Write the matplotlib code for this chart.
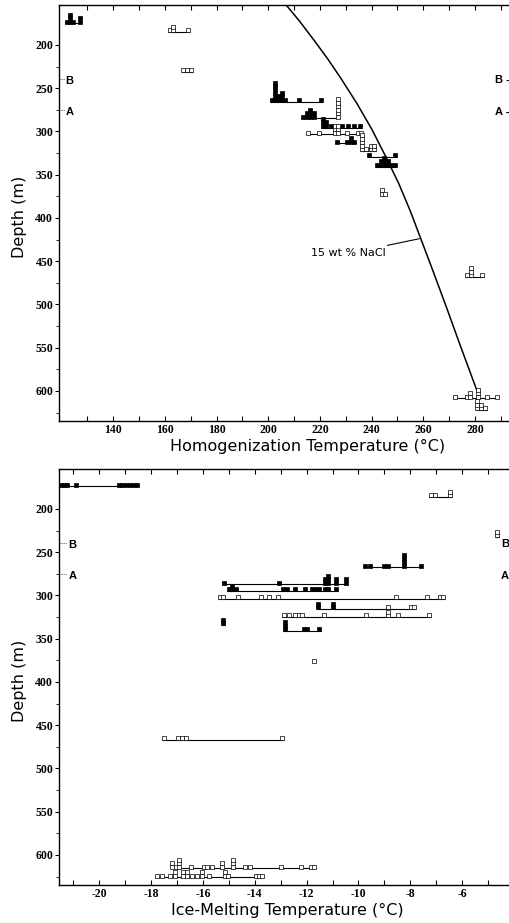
import matplotlib
matplotlib.use('Agg')
import matplotlib.pyplot as plt
from collections import Counter

plt.rcParams['axes.unicode_minus'] = False

# ---------------- data: homogenization temperature (top panel) ----------------
# one entry per inclusion (deg C); repeated values stack up as a histogram column
th_depths = [175, 185, 231, 265.5, 285, 295.6, 303.3, 313.7, 322.5, 329, 340.6, 374, 468, 608.5, 622]
th_filled = [
    [122.2, 123.4, 123.4, 123.4, 124.6, 127.0, 127.0],
    [],
    [],
    [201.3, 202.7, 202.7, 202.7, 202.7, 202.7, 202.7, 204.0, 204.0, 205.3, 205.3, 205.3, 206.6, 211.9, 220.3],
    [213.6, 214.9, 214.9, 216.3, 216.3, 216.3, 217.6, 217.6],
    [221.2, 221.2, 221.2, 222.5, 222.5, 224.2, 228.7, 231.0, 233.2, 235.5],
    [],
    [226.7, 230.6, 231.9, 231.9, 233.2],
    [],
    [239.2, 249.2],
    [242.3, 243.6, 243.6, 245.0, 245.0, 245.0, 246.3, 246.3, 247.6, 248.9],
    [],
    [],
    [],
    [],
]
th_open = [
    [],
    [162.0, 163.3, 163.3, 168.8],
    [167.2, 168.6, 170.0],
    [],
    [227.0, 227.0, 227.0, 227.0, 227.0, 227.0],
    [],
    [215.4, 219.5, 225.8, 225.8, 225.8, 227.2, 227.2, 227.2, 230.5, 234.6, 236.0],
    [],
    [236.2, 236.2, 236.2, 236.2, 236.2, 237.8, 239.6, 239.6, 241.0, 241.0],
    [],
    [],
    [244.0, 244.0, 245.3],
    [276.9, 278.3, 278.3, 278.3, 282.9],
    [272.4, 276.9, 278.2, 278.2, 281.2, 281.2, 281.2, 284.8, 288.6],
    [281.0, 281.0, 281.0, 282.4, 282.4, 283.8],
]

# 15 wt % NaCl boiling curve
curve_t = [207, 212, 217.6, 223, 228, 234.4, 240.2, 245.3, 250.5, 255, 259, 264, 269.2, 274.4, 280.6]
curve_d = [154, 172, 194, 216, 238, 268, 298, 328, 360, 392, 423.5, 463, 505, 548, 598]

# ---------------- data: ice-melting temperature (bottom panel) ----------------
tm_depths = [174, 186, 232, 267.4, 287, 294.4, 304, 315.6, 324.5, 341, 334, 378, 467, 615.4, 626]
tm_filled = [
    [-21.5, -21.37, -21.24, -20.9, -19.25, -19.12, -18.98, -18.82, -18.68, -18.53],
    [],
    [],
    [-9.75, -9.55, -9.0, -8.87, -8.24, -8.24, -8.24, -8.24, -7.6],
    [-15.2, -13.08, -11.3, -11.3, -11.17, -11.17, -11.17, -10.85, -10.85, -10.47, -10.47],
    [-15.0, -14.87, -14.87, -14.74, -12.9, -12.77, -12.45, -12.05, -11.8, -11.67, -11.54, -11.3, -11.17, -10.85],
    [],
    [-11.55, -11.55, -11.0, -11.0],
    [],
    [-12.85, -12.85, -12.85, -12.1, -11.97, -11.52],
    [-15.22, -15.22],
    [],
    [],
    [],
    [],
]
tm_open = [
    [],
    [-7.2, -7.05, -6.45, -6.45],
    [-4.65, -4.65],
    [],
    [],
    [],
    [-15.35, -15.22, -14.65, -13.75, -13.45, -13.1, -8.55, -7.35, -6.85, -6.72],
    [-8.87, -7.98, -7.85],
    [-12.87, -12.68, -12.46, -12.29, -12.16, -11.33, -9.71, -8.87, -8.87, -8.48, -7.26],
    [],
    [],
    [-11.71],
    [-17.5, -16.96, -16.83, -16.64, -12.94],
    [-17.18, -17.18, -17.05, -16.92, -16.92, -16.92, -16.46, -15.97, -15.84, -15.65,
     -15.26, -15.26, -14.85, -14.85, -14.85, -14.36, -14.17, -13.0, -12.23, -11.84, -11.71],
    [-17.78, -17.58, -17.26, -17.1, -17.1, -16.77, -16.77, -16.61, -16.61, -16.42, -16.23,
     -16.03, -16.03, -15.78, -15.17, -15.17, -15.04, -13.97, -13.84, -13.71],
]

zone_labels = ['B', 'A']
zone_depths = [241, 277]

TICK_FONT = dict(family='Liberation Serif', fontweight='bold', fontsize=8.5)
LABEL_FONT = dict(family='DejaVu Sans', fontsize=11.5)


def draw_samples(ax, depths, filled, hollow, pad, step, size):
    # baseline across the sample range, then squares stacked upward per value
    for d, f, o in zip(depths, filled, hollow):
        temps = f + o
        if len(temps) > 1:
            ax.hlines(d, min(temps) - pad, max(temps) + pad, color='black', lw=0.8, zorder=2)
        for vals, fc in ((f, 'black'), (o, 'white')):
            if not vals:
                continue
            seen = Counter()
            xs, ys = [], []
            for t in vals:
                xs.append(t)
                ys.append(d - step * (seen[t] + 0.5))
                seen[t] += 1
            ax.scatter(xs, ys, marker='s', s=size, facecolor=fc, edgecolor='black',
                       linewidths=0.5, zorder=3)


def style_axes(ax, xlim, major, minor, label, label_x):
    ax.set_xlim(*xlim)
    ax.set_ylim(634.7, 153.8)
    ax.spines['right'].set_visible(False)
    for s in ('left', 'top', 'bottom'):
        ax.spines[s].set_linewidth(1.0)
    ax.set_xticks(list(major))
    ax.set_xticklabels([str(v) for v in major], **TICK_FONT)
    ax.set_xticks(list(minor), minor=True)
    ax.tick_params(axis='x', which='both', direction='in', top=True, length=3.5, width=0.8, pad=2)
    yt = list(range(200, 601, 50))
    ax.set_yticks(yt)
    ax.set_yticklabels([str(v) for v in yt], **TICK_FONT)
    ax.set_yticks(list(range(225, 626, 50)), minor=True)
    ax.tick_params(axis='y', which='major', direction='out', length=3, width=0.8, pad=1)
    ax.tick_params(axis='y', which='minor', direction='out', length=2, width=0.6)
    ax.set_xlabel(label, **LABEL_FONT)
    ax.xaxis.set_label_coords(label_x, -0.044)
    ax.set_ylabel('Depth (m)', **LABEL_FONT)
    ax.yaxis.set_label_coords(-0.07, 0.49)


fig = plt.figure(figsize=(5.09, 9.23), dpi=100)
ax1 = fig.add_axes([0.1153, 0.5439, 0.8847, 0.4507])
ax2 = fig.add_axes([0.1153, 0.0412, 0.8847, 0.4507])

# top panel
draw_samples(ax1, th_depths, th_filled, th_open, pad=0.7, step=4.0, size=6.4)
ax1.plot(curve_t, curve_d, color='black', lw=1.1, zorder=2)
ax1.annotate('15 wt % NaCl', xy=(258.5, 424), xytext=(245.6, 441),
             ha='right', va='center', fontsize=8, family='DejaVu Sans',
             arrowprops=dict(arrowstyle='-', lw=0.8, color='black', shrinkA=1, shrinkB=0))
style_axes(ax1, (118.9, 293.2), range(140, 281, 20), range(130, 291, 10),
           'Homogenization Temperature (°C)', 0.5525)

# bottom panel
draw_samples(ax2, tm_depths, tm_filled, tm_open, pad=0.065, step=3.9, size=5.8)
style_axes(ax2, (-21.57, -4.19), range(-20, -5, 2), range(-21, -4, 1),
           'Ice-Melting Temperature (°C)', 0.507)

# zone markers B / A on both sides
for ax, x_left, x_right, right_txt in ((ax1, 121.5, 287.6, ' -'), (ax2, -21.2, -4.5, '')):
    x0 = ax.get_xlim()[0]
    for lab, d in zip(zone_labels, zone_depths):
        ax.plot([x0, x_left - (x_left - x0) * 0.25], [d - 2, d - 2], color='black',
                lw=0.6, ls=(0, (1, 1.5)), clip_on=False)
        ax.text(x_left, d + 1, lab, fontsize=8, fontweight='bold', family='Liberation Sans',
                ha='left', va='center')
        ax.text(x_right, d, lab + right_txt, fontsize=8, fontweight='bold',
                family='Liberation Sans', ha='left', va='center')

fig.savefig('out.png', dpi=100)
